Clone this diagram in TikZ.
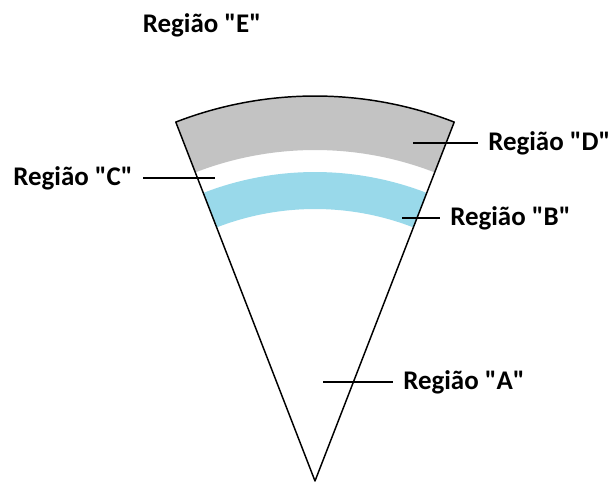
\documentclass[tikz,border=0pt]{standalone}
\usepackage{fontspec}
\setmainfont{Carlito}[Ligatures=TeXOff]
\usetikzlibrary{calc}
\definecolor{paintgray}{HTML}{C3C3C3}
\definecolor{paintblue}{HTML}{99D9EA}
\begin{document}
\begin{tikzpicture}[x=0.75pt,y=-0.75pt,
  lbl/.style={font=\fontsize{20.2}{24}\selectfont\bfseries, inner xsep=7.5pt, inner ysep=0pt},
  leader/.style={line width=1.1pt, black},
  outline/.style={line width=1.1pt, black, line join=round}]
\useasboundingbox (0,0) rectangle (611,482);
\coordinate (apex) at (315,481);
% gray band (Regiao D)
\fill[paintgray] ($(apex)+(-111.2:331)$) -- ($(apex)+(-111.2:385)$)
  arc[start angle=-111.2, end angle=-68.8, radius=385]
  -- ($(apex)+(-68.8:331)$)
  arc[start angle=-68.8, end angle=-111.2, radius=331] -- cycle;
% blue band (Regiao B)
\fill[paintblue] ($(apex)+(-111.2:272)$) -- ($(apex)+(-111.2:309)$)
  arc[start angle=-111.2, end angle=-68.8, radius=309]
  -- ($(apex)+(-68.8:272)$)
  arc[start angle=-68.8, end angle=-111.2, radius=272] -- cycle;
% outline
\draw[outline] (apex) -- ($(apex)+(-111.2:385)$)
  arc[start angle=-111.2, end angle=-68.8, radius=385] -- cycle;
% labels
\node[lbl, anchor=center] (E) at (202,25) {Região "E"};
\node[lbl, anchor=east] (C) at (143,178) {Região "C"};
\node[lbl, anchor=west] (D) at (478,143) {Região "D"};
\node[lbl, anchor=west] (B) at (440,218) {Região "B"};
\node[lbl, anchor=west] (A) at (393,382) {Região "A"};
% leader ends
\coordinate (pC) at (215,178);
\coordinate (pD) at (413,143);
\coordinate (pB) at (402,218);
\coordinate (pA) at (323,382);
\draw[leader] (C.east) -- (pC);
\draw[leader] (pD) -- (D.west);
\draw[leader] (pB) -- (B.west);
\draw[leader] (pA) -- (A.west);
\end{tikzpicture}
\end{document}
